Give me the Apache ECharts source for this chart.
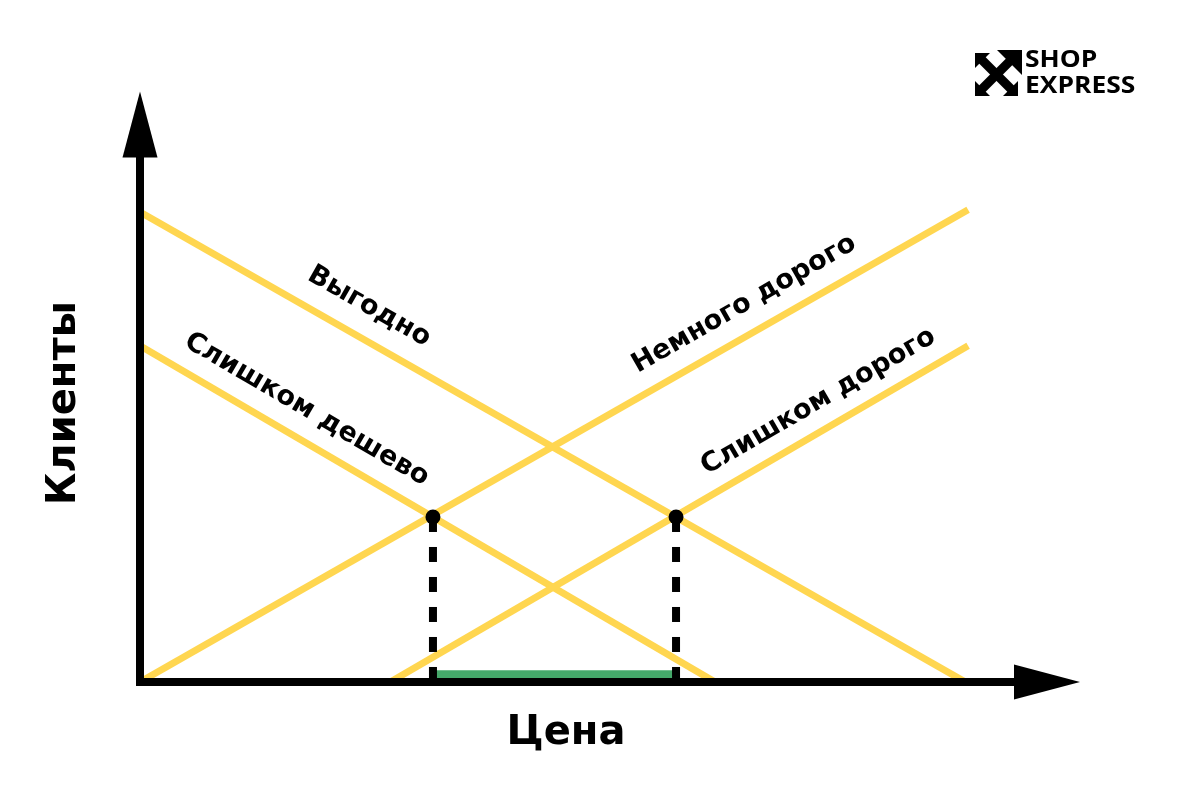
<!DOCTYPE html>
<html>
<head>
<meta charset="utf-8">
<script src="https://cdn.jsdelivr.net/npm/echarts@6/dist/echarts.min.js"></script>
<style>html,body{margin:0;padding:0;background:#fff}#c{width:1200px;height:792px}</style>
</head>
<body>
<div id="c"></div>
<script>
// Abstract price / customers units (no ticks shown)
const lineNames = ['Выгодно', 'Слишком дешево', 'Немного дорого', 'Слишком дорого'];
const goodValue = [[0, 84.3], [91.0, 0]];        // Выгодно
const tooCheap = [[0, 60.3], [63.4, 0]];         // Слишком дешево
const bitExpensive = [[0, 0], [91.3, 84.7]];     // Немного дорого
const tooExpensive = [[27.6, 0], [91.3, 60.3]];  // Слишком дорого
const optimalPoints = [[32.3, 29.6], [59.1, 29.6]];
const acceptableRange = [[32.3, 1.4], [59.1, 1.4]];
const axisNames = ['Цена', 'Клиенты'];
const logoLines = ['SHOP', 'EXPRESS'];

const YELLOW = '#FFD650';
const FONT = 'DejaVu Sans';

function yellowLine(name, data, along, perp) {
  return {
    type: 'line', name: name, data: data, clip: false, symbol: 'none', z: 2,
    lineStyle: { color: YELLOW, width: 7 },
    silent: true,
    markLine: {
      silent: true, symbol: ['none', 'none'],
      lineStyle: { color: 'rgba(0,0,0,0)', width: 0, opacity: 1 },
      label: {
        show: true, position: 'insideStartTop', distance: [along, perp],
        align: 'center', verticalAlign: 'middle', opacity: 1,
        formatter: name, color: '#000', fontFamily: FONT, fontWeight: 'bold', fontSize: 27
      },
      data: [[{ coord: data[0] }, { coord: data[1] }]]
    }
  };
}

const series = [
  {
    type: 'line', data: acceptableRange, symbol: 'none', clip: false, z: 1, silent: true,
    lineStyle: { color: '#45A86A', width: 8 }
  },
  yellowLine(lineNames[0], goodValue, 246, 31),
  yellowLine(lineNames[1], tooCheap, 176, 29),
  yellowLine(lineNames[2], bitExpensive, 712, 29),
  yellowLine(lineNames[3], tooExpensive, 511, 27)
];
optimalPoints.forEach(function (p) {
  series.push({
    type: 'line', data: [p, [p[0], 0]], symbol: 'none', clip: false, z: 3, silent: true,
    lineStyle: { color: '#000', width: 8, type: [15, 15] }
  });
});
series.push({
  type: 'scatter', data: optimalPoints, symbol: 'circle', symbolSize: 15, z: 4, silent: true,
  itemStyle: { color: '#000', opacity: 1 }
});

const chart = echarts.init(document.getElementById('c'), null, { renderer: 'canvas' });
chart.setOption({
  backgroundColor: '#fff',
  animation: false,
  grid: { left: 140, right: 153, top: 124.5, bottom: 110 },
  xAxis: {
    type: 'value', min: 0, max: 100, z: 5,
    name: axisNames[0], nameLocation: 'middle', nameGap: 32,
    nameTextStyle: { fontFamily: FONT, fontWeight: 'bold', fontSize: 40, color: '#000', padding: [0, 55, 0, 0] },
    axisLine: { show: true, symbol: ['none', 'triangle'], symbolSize: [35, 66],
      lineStyle: { color: '#000', width: 8, cap: 'square' } },
    axisTick: { show: false }, axisLabel: { show: false }, splitLine: { show: false }
  },
  yAxis: {
    type: 'value', min: 0, max: 100, z: 5,
    name: axisNames[1], nameLocation: 'middle', nameGap: 55, nameRotate: 90,
    nameTextStyle: { fontFamily: FONT, fontWeight: 'bold', fontSize: 40, color: '#000' },
    axisLine: { show: true, symbol: ['none', 'triangle'], symbolSize: [35, 66],
      lineStyle: { color: '#000', width: 8, cap: 'square' } },
    axisTick: { show: false }, axisLabel: { show: false }, splitLine: { show: false }
  },
  graphic: [
    { type: 'polygon', shape: { points: [[975, 53], [990, 53], [975, 68]] }, style: { fill: '#000' } },
    { type: 'polygon', shape: { points: [[997, 50], [1022, 50], [1022, 75]] }, style: { fill: '#000' } },
    { type: 'polygon', shape: { points: [[975, 96], [975, 81], [990, 96]] }, style: { fill: '#000' } },
    { type: 'polygon', shape: { points: [[1018, 96], [1018, 81], [1003, 96]] }, style: { fill: '#000' } },
    { type: 'line', shape: { x1: 980, y1: 58, x2: 1013, y2: 91 }, style: { stroke: '#000', lineWidth: 9 } },
    { type: 'line', shape: { x1: 980, y1: 91, x2: 1012, y2: 59 }, style: { stroke: '#000', lineWidth: 9 } },
    { type: 'text', x: 1025, y: 60, scaleX: 1.1,
      style: { text: logoLines[0], font: 'bold 24px "Open Sans"', fill: '#000', verticalAlign: 'middle', align: 'left' } },
    { type: 'text', x: 1025, y: 86, scaleX: 1.1,
      style: { text: logoLines[1], font: 'bold 24px "Open Sans"', fill: '#000', verticalAlign: 'middle', align: 'left' } }
  ],
  series: series
});
</script>
</body>
</html>
